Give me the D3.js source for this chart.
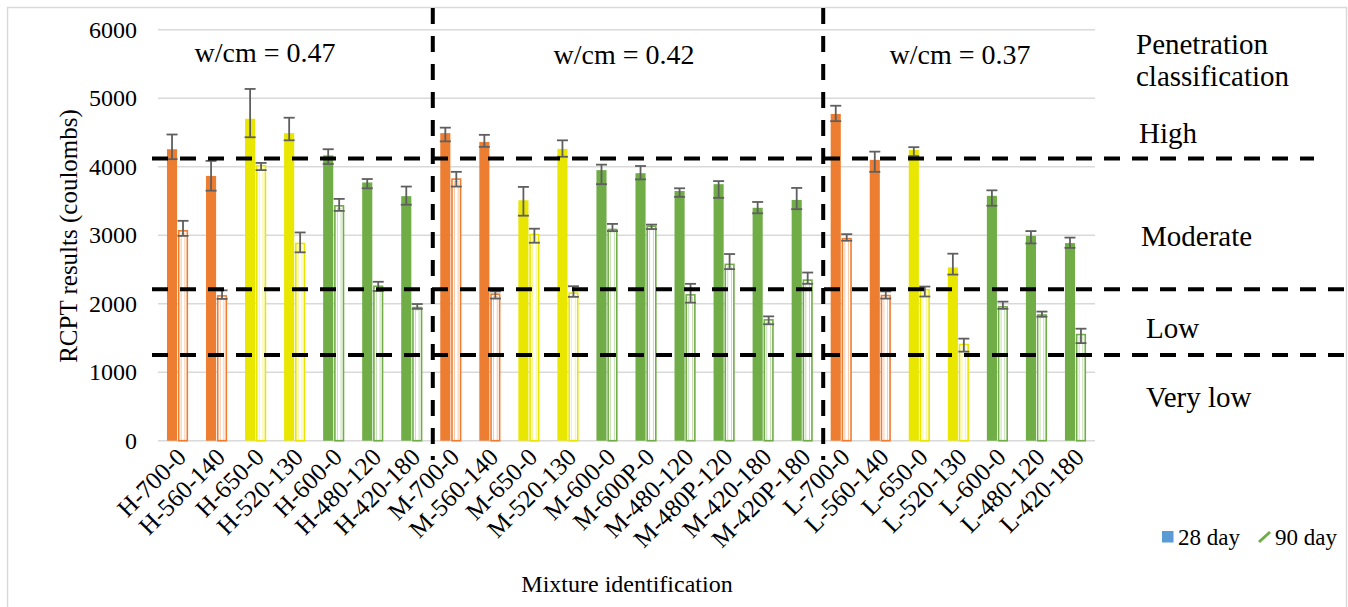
<!DOCTYPE html>
<html>
<head>
<meta charset="utf-8">
<script src="https://cdn.jsdelivr.net/npm/d3@7"></script>
<style>
html,body{margin:0;padding:0;background:#fff;}
svg text{font-family:"Liberation Serif","Times New Roman",serif !important;fill:#000;}
</style>
</head>
<body>
<svg id="chart" width="1348" height="607"></svg>
<script>
// ---- data ----
const categories = ["H-700-0","H-560-140","H-650-0","H-520-130","H-600-0","H-480-120","H-420-180",
  "M-700-0","M-560-140","M-650-0","M-520-130","M-600-0","M-600P-0","M-480-120","M-480P-120","M-420-180","M-420P-180",
  "L-700-0","L-560-140","L-650-0","L-520-130","L-600-0","L-480-120","L-420-180"];
const groupColor = ["orange","orange","yellow","yellow","green","green","green",
  "orange","orange","yellow","yellow","green","green","green","green","green","green",
  "orange","orange","yellow","yellow","green","green","green"];
const day28 = [4255,3865,4700,4490,4165,3770,3570,4490,4360,3510,4260,3950,3905,3645,3745,3400,3515,4770,4100,4245,2530,3575,2990,2885];
const day28Hi = [4470,4085,5135,4715,4255,3820,3710,4570,4465,3705,4385,4030,4010,3685,3790,3485,3690,4890,4220,4285,2730,3655,3060,2965];
const day28Lo = [4110,3650,4430,4385,4040,3685,3445,4370,4290,3285,4145,3745,3815,3560,3545,3320,3380,4665,3925,4155,2425,3430,2880,2815];
const day90 = [3075,2125,4025,2890,3440,2265,1955,3830,2150,3020,2165,3095,3140,2140,2585,1775,2355,2960,2130,2215,1415,1965,1845,1560];
const day90Hi = [3210,2195,4055,3040,3530,2320,1995,3925,2180,3095,2255,3165,3155,2290,2725,1815,2455,3015,2180,2250,1490,2030,1885,1635];
const day90Lo = [2990,2070,3950,2750,3355,2185,1925,3710,2075,2890,2100,3060,3090,2015,2505,1700,2290,2920,2075,2105,1300,1925,1810,1425];
const yTicks = [0,1000,2000,3000,4000,5000,6000];
const thresholds = [4120, 2210, 1250];
const groupLabels = ["w/cm = 0.47","w/cm = 0.42","w/cm = 0.37"];
const classLabels = ["High","Moderate","Low","Very low"];
const seriesNames = ["28 day","90 day"];

// ---- styles ----
const FONT = "'Liberation Serif', 'Times New Roman', serif";
const colors = {orange:"#ED7D31", yellow:"#E9E600", green:"#70AD47"};
const plot = {left:158, right:1095, top:29.7, bottom:440.7};

const svg = d3.select("#chart");

// outer border
svg.append("rect").attr("x",7.5).attr("y",7.5).attr("width",1339).attr("height",610)
  .attr("fill","none").attr("stroke","#d9d9d9").attr("stroke-width",1.5);

const x0 = d3.scaleBand().domain(categories).range([plot.left, plot.right])
  .paddingInner(0.46).paddingOuter(0.23);
const x1 = d3.scaleBand().domain(["d28","d90"]).range([0, x0.bandwidth()]).paddingInner(0.08);
const y = d3.scaleLinear().domain([0,6000]).range([plot.bottom, plot.top]);
const step = x0.step();

// gridlines
svg.append("g").selectAll("line").data(yTicks).join("line")
  .attr("x1",plot.left).attr("x2",plot.right)
  .attr("y1",d=>y(d)).attr("y2",d=>y(d))
  .attr("stroke","#d9d9d9").attr("stroke-width",1.5);

// y axis labels
const yAxis = d3.axisLeft(y).tickValues(yTicks).tickSize(0).tickPadding(0).tickFormat(d3.format("d"));
const ya = svg.append("g").attr("transform",`translate(${plot.left-21},0)`).call(yAxis)
  .attr("font-family",FONT);
ya.select(".domain").remove();
ya.selectAll("text").attr("font-size",24).style("font-family",FONT).attr("fill","#000");

// bars
const g = svg.append("g");
categories.forEach((c,i)=>{
  const col = colors[groupColor[i]];
  const bx = x0(c);
  const w28 = x1.bandwidth();
  g.append("rect").attr("x",bx+x1("d28")).attr("y",y(day28[i]))
    .attr("width",w28).attr("height",y(0)-y(day28[i])).attr("fill",col);
  const hx = bx+x1("d90");
  g.append("rect").attr("x",hx+0.75).attr("y",y(day90[i])+0.75)
    .attr("width",w28-1.5).attr("height",y(0)-y(day90[i])-0.75)
    .attr("fill","#fff").attr("stroke",col).attr("stroke-width",1.6);
  g.append("rect").attr("x",hx+3.2).attr("y",y(day90[i])+3.2)
    .attr("width",Math.max(0,w28-6.4)).attr("height",y(0)-y(day90[i])-3.2)
    .attr("fill","none").attr("stroke",col).attr("stroke-width",0.9).attr("stroke-opacity",0.45);
});

// error bars
const eb = svg.append("g").attr("stroke","#5f5f5f").attr("stroke-width",1.8);
function errBar(cx, hi, lo){
  eb.append("line").attr("x1",cx).attr("x2",cx).attr("y1",y(hi)).attr("y2",y(lo));
  eb.append("line").attr("x1",cx-5.5).attr("x2",cx+5.5).attr("y1",y(hi)).attr("y2",y(hi));
  eb.append("line").attr("x1",cx-5.5).attr("x2",cx+5.5).attr("y1",y(lo)).attr("y2",y(lo));
}
categories.forEach((c,i)=>{
  const bx = x0(c);
  errBar(bx+x1("d28")+x1.bandwidth()/2, day28Hi[i], day28Lo[i]);
  errBar(bx+x1("d90")+x1.bandwidth()/2, day90Hi[i], day90Lo[i]);
});

// helper for text
function txt(sel){ return sel.style("font-family",FONT).attr("fill","#000"); }

// x axis labels
txt(svg.append("g").selectAll("text").data(categories).join("text"))
  .attr("transform",d=>`translate(${x0(d)+x0.bandwidth()/2+10},${plot.bottom+18}) rotate(-45)`)
  .attr("text-anchor","end").attr("font-size",25).text(d=>d);

// dashed threshold lines
const dash = svg.append("g").attr("stroke","#000").attr("stroke-width",4).attr("stroke-dasharray","16,12");
thresholds.forEach((t,k)=>{
  dash.append("line").attr("x1",152).attr("x2",k===0?1314:1348).attr("y1",y(t)).attr("y2",y(t));
});
const sepIdx = [7,17];
sepIdx.forEach(k=>{
  const sx = plot.left + k*step + 1.5;
  dash.append("line").attr("x1",sx).attr("x2",sx).attr("y1",8).attr("y2",460);
});

// group labels
const groupCenters = [265, 624, 960];
groupLabels.forEach((t,k)=>{
  txt(svg.append("text")).attr("x",groupCenters[k]).attr("y",k===0?62:64)
    .attr("text-anchor","middle").attr("font-size",28).text(t);
});

// classification labels
txt(svg.append("text")).attr("x",1136).attr("y",54).attr("font-size",29).text("Penetration");
txt(svg.append("text")).attr("x",1136).attr("y",86).attr("font-size",29).text("classification");
const classPos = [[1139,143],[1141,246],[1146,338],[1146,407]];
classLabels.forEach((t,k)=>{
  txt(svg.append("text")).attr("x",classPos[k][0]).attr("y",classPos[k][1]).attr("font-size",29).text(t);
});

// axis titles
txt(svg.append("text")).attr("transform","translate(77,236) rotate(-90)")
  .attr("text-anchor","middle").attr("font-size",25).text("RCPT results (coulombs)");
txt(svg.append("text")).attr("x",627).attr("y",592).attr("text-anchor","middle")
  .attr("font-size",24).text("Mixture identification");

// legend
const lg = svg.append("g");
lg.append("rect").attr("x",1162).attr("y",531).attr("width",11.5).attr("height",11.5).attr("fill","#5B9BD5");
txt(lg.append("text")).attr("x",1178).attr("y",545).attr("font-size",23).text(seriesNames[0]);
lg.append("line").attr("x1",1259).attr("y1",542).attr("x2",1270).attr("y2",532)
  .attr("stroke","#70AD47").attr("stroke-width",3);
txt(lg.append("text")).attr("x",1275).attr("y",545).attr("font-size",23).text(seriesNames[1]);
</script>
</body>
</html>
